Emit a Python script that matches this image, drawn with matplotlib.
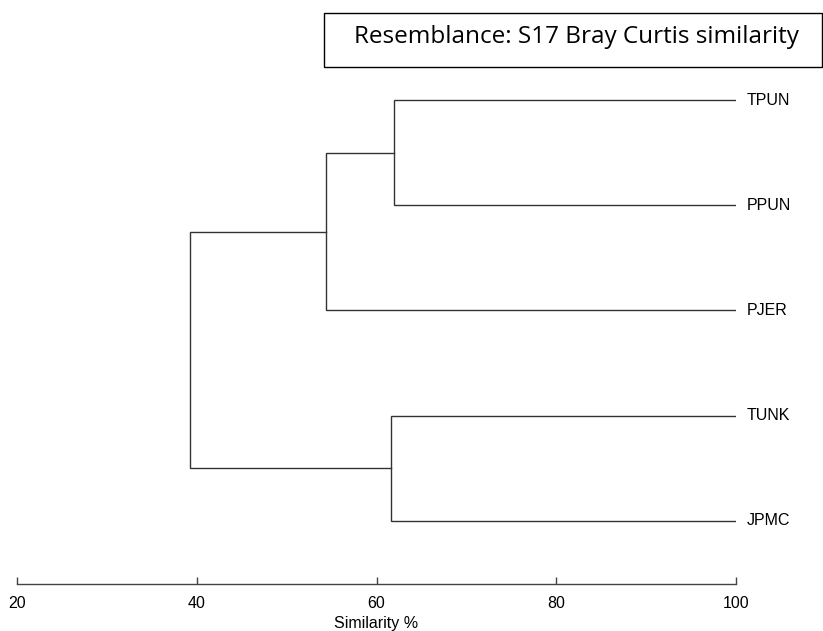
import matplotlib
matplotlib.use("Agg")
import matplotlib.pyplot as plt
from matplotlib.patches import Rectangle

# leaves from top to bottom
leaves = ["TPUN", "PPUN", "PJER", "TUNK", "JPMC"]
# merges: (child a, child b, similarity %) ; children are leaf names or merge ids
merges = [
    ("TPUN", "PPUN", 61.9),
    ("TUNK", "JPMC", 61.6),
    (0, "PJER", 54.4),
    (2, 1, 39.2),
]
xticks = [20, 40, 60, 80, 100]

W, H = 823, 631
fig = plt.figure(figsize=(W / 100, H / 100), dpi=100)
ax = fig.add_axes([17 / W, (H - 584) / H, (736 - 17) / W, (584 - 37) / H])

lc = "#333333"
pos = {name: (float(i), 100.0) for i, name in enumerate(leaves)}
for k, (a, b, h) in enumerate(merges):
    ya, ha = pos[a]
    yb, hb = pos[b]
    ax.plot([ha, h, h, hb], [ya, ya, yb, yb], color=lc, lw=1.0,
            solid_joinstyle="miter")
    pos[k] = ((ya + yb) / 2, h)

for i, name in enumerate(leaves):
    ax.text(101.2, i, name, ha="left", va="center", fontsize=11.5,
            family="Liberation Sans", clip_on=False)

ax.set_xlim(20, 100)
ax.set_ylim(4.6, -0.6)
for s in ["top", "right", "left"]:
    ax.spines[s].set_visible(False)
ax.spines["bottom"].set_color("#444444")
ax.spines["bottom"].set_linewidth(1.0)
ax.set_yticks([])
ax.set_xticks(xticks)
ax.set_xticklabels([str(t) for t in xticks], family="Liberation Sans", fontsize=11.5)
ax.tick_params(axis="x", direction="in", length=5, width=1.0, color="#444444", pad=9)
ax.set_xlabel("Similarity %", family="Liberation Sans", fontsize=11.5, labelpad=3)

# title box
fig.patches.append(Rectangle((324 / W, 1 - 67 / H), (822 - 324) / W, (67 - 13) / H,
                             transform=fig.transFigure, fill=False,
                             edgecolor="black", lw=1.0))
fig.text(576 / W, 1 - 37 / H, "Resemblance: S17 Bray Curtis similarity",
         ha="center", va="center", fontsize=17.5, family="Open Sans")

fig.savefig("out.png", dpi=100)
